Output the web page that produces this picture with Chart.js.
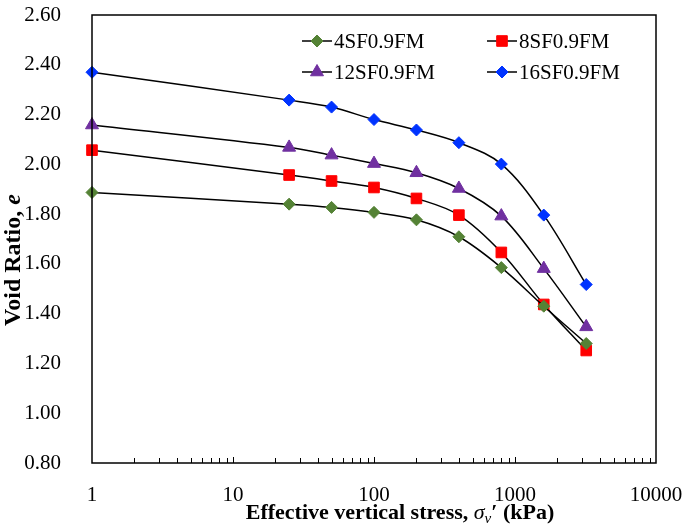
<!DOCTYPE html>
<html>
<head>
<meta charset="utf-8">
<script src="https://cdn.jsdelivr.net/npm/chart.js@4.4.1/dist/chart.umd.min.js"></script>
<style>
  html, body { margin: 0; padding: 0; background: #fff; }
  #wrap { width: 686px; height: 525px; }
</style>
</head>
<body>
<div id="wrap"><canvas id="chart" width="686" height="525"></canvas></div>
<script>
// effective vertical stress (kPa)
const stress = [1, 25, 50, 100, 200, 400, 800, 1600, 3200];

// void ratio for each mix
const sf4 = [1.887, 1.840, 1.827, 1.807, 1.777, 1.709, 1.585, 1.430, 1.280];
const sf8 = [2.057, 1.957, 1.933, 1.907, 1.863, 1.796, 1.646, 1.437, 1.252];
const sf12 = [2.158, 2.068, 2.037, 2.003, 1.966, 1.903, 1.792, 1.581, 1.347];
const sf16 = [2.370, 2.258, 2.230, 2.180, 2.138, 2.087, 2.001, 1.796, 1.517];

const seriesNames = ["4SF0.9FM", "8SF0.9FM", "12SF0.9FM", "16SF0.9FM"];
const xTickValues = [1, 10, 100, 1000, 10000];
const yTickValues = [0.8, 1.0, 1.2, 1.4, 1.6, 1.8, 2.0, 2.2, 2.4, 2.6];

const serif = "'Liberation Serif', 'Times New Roman', serif";

function pts(ys) {
  return stress.map((x, i) => ({ x: x, y: ys[i] }));
}

function makeSet(label, ys, color, style, radius) {
  return {
    label: label,
    data: pts(ys),
    borderColor: "#000",
    borderWidth: 1.5,
    backgroundColor: color,
    pointBackgroundColor: color,
    pointBorderColor: color,
    pointBorderWidth: 1,
    pointStyle: style,
    pointRadius: radius,
    tension: 0.35,
    clip: false
  };
}

const datasets = [
  makeSet(seriesNames[0], sf4, "#548235", "rectRot", 6),
  makeSet(seriesNames[1], sf8, "#ff0000", "rect", 7.5),
  makeSet(seriesNames[2], sf12, "#7030a0", "triangle", 7.5),
  makeSet(seriesNames[3], sf16, "#0033ff", "rectRot", 6)
];

// box around plot, inward minor ticks, legend and axis titles
const decorPlugin = {
  id: "decor",
  afterDraw(chart) {
    const ctx = chart.ctx;
    const a = chart.chartArea;
    const xs = chart.scales.x;
    ctx.save();
    ctx.strokeStyle = "#000";
    ctx.lineWidth = 1.5;
    ctx.strokeRect(a.left, a.top, a.right - a.left, a.bottom - a.top);

    // inward ticks on log axis
    ctx.lineWidth = 1;
    for (let d = 1; d < 10000; d *= 10) {
      for (let m = 1; m <= 9; m++) {
        const v = d * m;
        if (v <= 1 || v >= 10000) continue;
        const px = Math.round(xs.getPixelForValue(v)) + 0.5;
        const len = m === 1 ? 6 : 5;
        ctx.beginPath();
        ctx.moveTo(px, a.bottom);
        ctx.lineTo(px, a.bottom - len);
        ctx.stroke();
      }
    }

    // legend
    const cols = [302, 487];
    const rows = [41, 72];
    chart.data.datasets.forEach((ds, i) => {
      const x0 = cols[i % 2];
      const y0 = rows[Math.floor(i / 2)];
      ctx.strokeStyle = "#000";
      ctx.lineWidth = 1.5;
      ctx.beginPath();
      ctx.moveTo(x0, y0);
      ctx.lineTo(x0 + 30, y0);
      ctx.stroke();
      ctx.fillStyle = ds.pointBackgroundColor;
      ctx.strokeStyle = ds.pointBorderColor;
      ctx.lineWidth = 1;
      Chart.helpers.drawPoint(ctx, { pointStyle: ds.pointStyle, radius: ds.pointRadius, borderWidth: 1, rotation: 0 }, x0 + 15, y0);
      ctx.fillStyle = "#000";
      ctx.font = "21px " + serif;
      ctx.textAlign = "left";
      ctx.textBaseline = "middle";
      ctx.fillText(ds.label, x0 + 32, y0 + 1);
    });

    // x axis title with italic sigma_v
    ctx.fillStyle = "#000";
    ctx.textBaseline = "alphabetic";
    const ty = 519;
    const parts = [
      { t: "Effective vertical stress, ", f: "bold 22px " + serif, dy: 0 },
      { t: "\u03c3", f: "italic 22px " + serif, dy: 0 },
      { t: "v", f: "italic 15px " + serif, dy: 4 },
      { t: "\u2032 (kPa)", f: "bold 22px " + serif, dy: 0 }
    ];
    let total = 0;
    parts.forEach(p => { ctx.font = p.f; total += ctx.measureText(p.t).width; });
    let cx = 400 - total / 2;
    ctx.textAlign = "left";
    parts.forEach(p => {
      ctx.font = p.f;
      ctx.fillText(p.t, cx, ty + p.dy);
      cx += ctx.measureText(p.t).width;
    });

    // y axis title
    ctx.save();
    ctx.translate(20, 260);
    ctx.rotate(-Math.PI / 2);
    const yp = [
      { t: "Void Ratio, ", f: "bold 24px " + serif },
      { t: "e", f: "bold italic 24px " + serif }
    ];
    let yt = 0;
    yp.forEach(p => { ctx.font = p.f; yt += ctx.measureText(p.t).width; });
    let yx = -yt / 2;
    yp.forEach(p => {
      ctx.font = p.f;
      ctx.fillText(p.t, yx, 0);
      yx += ctx.measureText(p.t).width;
    });
    ctx.restore();

    ctx.restore();
  }
};

new Chart(document.getElementById("chart"), {
  type: "line",
  data: { datasets: datasets },
  options: {
    responsive: false,
    animation: false,
    layout: { padding: { top: 15, right: 30, left: 0, bottom: 0 } },
    plugins: {
      legend: { display: false },
      tooltip: { enabled: false }
    },
    scales: {
      x: {
        type: "logarithmic",
        min: 1,
        max: 10000,
        grid: { display: false },
        border: { display: false },
        afterBuildTicks: s => { s.ticks = xTickValues.map(v => ({ value: v })); },
        afterFit: s => { s.height = 62; s.paddingLeft = 0; s.paddingRight = 0; },
        ticks: {
          color: "#000",
          font: { family: serif, size: 21 },
          padding: 12,
          maxRotation: 0,
          autoSkip: false,
          callback: v => String(v)
        }
      },
      y: {
        type: "linear",
        min: 0.8,
        max: 2.6,
        grid: { display: false },
        border: { display: false },
        afterBuildTicks: s => { s.ticks = yTickValues.map(v => ({ value: v })); },
        afterFit: s => { s.width = 92; s.paddingTop = 0; s.paddingBottom = 0; },
        ticks: {
          color: "#000",
          font: { family: serif, size: 21 },
          padding: 23,
          callback: v => v.toFixed(2)
        }
      }
    }
  },
  plugins: [decorPlugin]
});
</script>
</body>
</html>
